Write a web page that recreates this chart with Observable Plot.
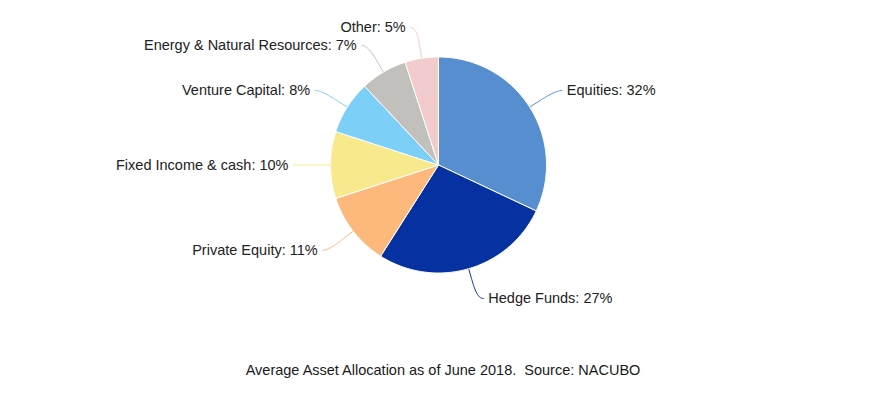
<!DOCTYPE html>
<html>
<head>
<meta charset="utf-8">
<script src="https://cdn.jsdelivr.net/npm/d3@7"></script>
<script src="https://cdn.jsdelivr.net/npm/@observablehq/plot@0.6"></script>
<style>
  html, body { margin: 0; padding: 0; background: #fff; }
  #chart { width: 880px; }
  #caption { width: 880px; text-align: center; font-family: "Liberation Sans", Arial, sans-serif;
             font-size: 14.5px; color: #1a1a1a; white-space: pre; padding-top: 11px; line-height: 18px; padding-left: 6px; box-sizing: border-box; }
</style>
</head>
<body>
<div id="chart"></div>
<div id="caption"></div>
<script>
const categories = ["Equities", "Hedge Funds", "Private Equity", "Fixed Income & cash", "Venture Capital", "Energy & Natural Resources", "Other"];
const values = [32, 27, 11, 10, 8, 7, 5];
const colors = ["#568ecf", "#0631a0", "#fdb97b", "#f8e98c", "#7cd0f8", "#c2c0bc", "#f2cccc"];
const captionText = "Average Asset Allocation as of June 2018.  Source: NACUBO";

const rPx = 108;            // pie radius in px
const labelDist = 31;       // label distance in px
const R = 1 + labelDist / rPx;
const Rb = 1 + 10 / rPx;

const data = categories.map((name, i) => ({name, value: values[i]}));
const arcs = d3.pie().sort(null).value(d => d.value).startAngle(0).endAngle(2 * Math.PI)(data);

const pt = (a, r) => [r * Math.sin(a), -r * Math.cos(a)];

// slice polygons
const slicePts = [];
arcs.forEach(a => {
  const name = a.data.name;
  slicePts.push({name, x: 0, y: 0});
  const n = Math.max(4, Math.ceil((a.endAngle - a.startAngle) / (Math.PI / 180)));
  for (let k = 0; k <= n; k++) {
    const t = a.startAngle + (a.endAngle - a.startAngle) * k / n;
    const [x, y] = pt(t, 1);
    slicePts.push({name, x, y});
  }
  slicePts.push({name, x: 0, y: 0});
});

// labels and connectors
const labels = arcs.map(a => {
  const mid = (a.startAngle + a.endAngle) / 2;
  const [x, y] = pt(mid, R);
  return {name: a.data.name, text: `${a.data.name}: ${a.data.value}%`, x, y, mid, right: mid < Math.PI};
});

const connPts = [];
labels.forEach(l => {
  const T = pt(l.mid, 1);
  const B = pt(l.mid, Rb);
  const A = [l.x, l.y];
  const E = [l.x + (l.right ? 6 : -6) / rPx, l.y];
  const C2 = [2 * B[0] - T[0], 2 * B[1] - T[1]];
  const N = 24;
  for (let k = 0; k <= N; k++) {
    const t = k / N, u = 1 - t;
    const x = u*u*u*E[0] + 3*u*u*t*A[0] + 3*u*t*t*C2[0] + t*t*t*B[0];
    const y = u*u*u*E[1] + 3*u*u*t*A[1] + 3*u*t*t*C2[1] + t*t*t*B[1];
    connPts.push({name: l.name, x, y});
  }
  connPts.push({name: l.name, x: T[0], y: T[1]});
});

const chart = Plot.plot({
  width: 880,
  height: 350,
  margin: 0,
  x: {domain: [-1, 1], range: [330, 546], axis: null},
  y: {domain: [-1, 1], range: [56.5, 272.5], axis: null},
  color: {domain: categories, range: colors},
  style: {fontFamily: "'Liberation Sans', Arial, sans-serif", background: "white"},
  marks: [
    Plot.line(connPts, {x: "x", y: "y", z: "name", stroke: "name", strokeWidth: 1, curve: "linear"}),
    Plot.line(slicePts, {x: "x", y: "y", z: "name", fill: "name", stroke: "white", strokeWidth: 1, strokeLinejoin: "round", curve: "linear"}),
    Plot.text(labels.filter(d => d.right), {x: "x", y: "y", text: "text", textAnchor: "start", dx: 11, fontSize: 14.5, fill: "#222"}),
    Plot.text(labels.filter(d => !d.right), {x: "x", y: "y", text: "text", textAnchor: "end", dx: -11, fontSize: 14.5, fill: "#222"})
  ]
});
document.getElementById("chart").append(chart);
document.getElementById("caption").textContent = captionText;
</script>
</body>
</html>
